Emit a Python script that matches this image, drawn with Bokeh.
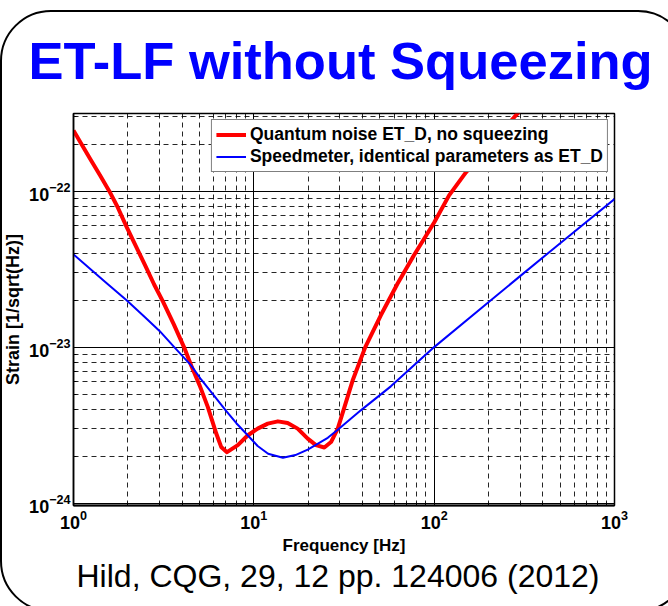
from urllib.parse import quote
from bokeh.plotting import figure
from bokeh.models import (Range1d, FixedTicker, LogTickFormatter, Legend, LegendItem, Title)
from bokeh.embed import file_html
from bokeh.resources import INLINE

# ---------------- data ----------------
freq_qn = [1.0, 1.1, 1.25, 1.4, 1.58, 1.75, 1.97, 2.2, 2.5, 2.8, 3.14, 3.6, 4.1, 4.5,
           5.0, 5.56, 6.19, 6.59, 7.1,
           8.15, 9.27, 10.5, 11.95, 13.6, 15.4, 17.5, 19.9, 22.1, 24.6, 26.8, 29.2,
           31.8, 35.3, 41.5, 50.6, 62.6, 77.4, 100, 121, 150, 200, 290, 300]
strain_qn = [2.45e-22, 2.03e-22, 1.58e-22, 1.27e-22, 1.0e-22, 7.98e-23, 5.9e-23, 4.53e-23,
             3.33e-23, 2.52e-23, 1.95e-23, 1.4e-23, 1.0e-23, 7.6e-24,
             5.7e-24, 4.12e-24, 2.79e-24, 2.29e-24, 2.12e-24,
             2.35e-24, 2.72e-24, 3.0e-24, 3.23e-24, 3.34e-24, 3.26e-24, 3.0e-24, 2.59e-24,
             2.35e-24, 2.27e-24, 2.46e-24, 3.0e-24,
             4.12e-24, 6.1e-24, 1.0e-23, 1.6e-23, 2.55e-23, 3.9e-23, 6.3e-23, 9.4e-23,
             1.32e-22, 1.95e-22, 3.15e-22, 3.3e-22]

freq_sm = [1.0, 1.5, 1.97, 2.5, 3.0, 3.62, 4.5, 5.1, 6.0, 7.0, 8.0, 9.3, 10.5, 12.0,
           14.5, 17.0, 19.9, 25.7, 29.2, 39.2, 57.5, 100, 200, 295, 500, 1000]
strain_sm = [3.93e-23, 2.62e-23, 2.0e-23, 1.55e-23, 1.27e-23, 1.0e-23, 7.6e-24, 6.2e-24,
             4.9e-24, 3.92e-24, 3.25e-24, 2.7e-24, 2.32e-24, 2.07e-24,
             1.95e-24, 2.03e-24, 2.2e-24, 2.62e-24, 2.95e-24, 3.93e-24, 5.6e-24, 1.0e-23,
             1.94e-23, 2.81e-23, 4.64e-23, 8.9e-23]

x_major_ticks = [1, 10, 100, 1000]
x_minor_ticks = [m * d for d in (1, 10, 100) for m in range(2, 10)]
y_major_ticks = [1e-24, 1e-23, 1e-22]
y_minor_ticks = [m * d for d in (1e-24, 1e-23) for m in range(2, 10)] + [2e-22, 3e-22]

x_limits = (1, 1000)
y_limits = (9.64e-25, 3.15e-22)

title_text = "ET-LF without Squeezing"
citation_text = "Hild, CQG, 29, 12 pp. 124006 (2012)"
legend_labels = ["Quantum noise ET_D, no squeezing",
                 "Speedmeter, identical parameters as ET_D"]
x_label = "Frequency [Hz]"
y_label = "Strain [1/sqrt(Hz)]"

FONT = "Liberation Sans"
W, H = 668, 606

# rounded slide frame drawn as a CSS background behind the (transparent) canvas border;
# the svg is larger than the figure so that its right and bottom sides fall outside
BG_W, BG_H = 760, 700
slide_svg = ('<svg xmlns="http://www.w3.org/2000/svg" width="%d" height="%d" '
             'viewBox="0 0 %d %d">'
             '<rect x="1" y="11" width="687" height="600" rx="50" ry="50" fill="none" '
             'stroke="black" stroke-width="2"/></svg>' % (BG_W, BG_H, BG_W, BG_H))

# ---------------- figure ----------------
p = figure(width=W, height=H, x_axis_type="log", y_axis_type="log",
           x_range=Range1d(*x_limits), y_range=Range1d(*y_limits),
           output_backend="svg", toolbar_location=None,
           min_border_left=72, min_border_right=54, min_border_top=113,
           min_border_bottom=101)
p.styles = {"background-image": 'url("data:image/svg+xml,%s")' % quote(slide_svg),
            "background-repeat": "no-repeat",
            "background-position": "0px 0px",
            "background-size": "%dpx %dpx" % (BG_W, BG_H),
            "overflow": "hidden",
            "vertical-align": "top",
            "margin-bottom": "-12px"}
p.background_fill_color = "white"
p.border_fill_color = "white"
p.border_fill_alpha = 0
p.outline_line_color = "black"
p.outline_line_width = 1.5

# title (panel must stay within the 113 px top border)
p.title.text = title_text
p.title.text_font = FONT
p.title.text_font_size = "52.5px"
p.title.text_font_style = "bold"
p.title.text_color = "#0000FF"
p.title.align = "left"
p.title.offset = -45
p.title.standoff = 48

# citation below
cit = Title(text=citation_text, text_font=FONT, text_font_size="32px",
            text_font_style="normal", text_color="black", align="left", offset=3,
            vertical_align="top", standoff=0)
p.add_layout(cit, "below")

# tickers / grid
xt = FixedTicker(ticks=x_major_ticks, minor_ticks=x_minor_ticks)
yt = FixedTicker(ticks=y_major_ticks, minor_ticks=y_minor_ticks)
p.xaxis.ticker = xt
p.yaxis.ticker = yt
p.xgrid.ticker = xt
p.ygrid.ticker = yt
p.xaxis.formatter = LogTickFormatter()
p.yaxis.formatter = LogTickFormatter()

for g in (p.xgrid, p.ygrid):
    g.grid_line_color = "black"
    g.grid_line_width = 1
    g.grid_line_alpha = 1
    g.minor_grid_line_color = "black"
    g.minor_grid_line_width = 1
    g.minor_grid_line_alpha = 0.85
    g.minor_grid_line_dash = "5 4"

for ax in (p.xaxis, p.yaxis):
    ax.axis_line_color = "black"
    ax.axis_line_width = 1.5
    ax.major_tick_in = 6
    ax.major_tick_out = 0
    ax.minor_tick_in = 3
    ax.minor_tick_out = 0
    ax.major_tick_line_color = "black"
    ax.minor_tick_line_color = "black"
    ax.major_label_text_font = FONT
    ax.major_label_text_font_style = "bold"
    ax.major_label_text_font_size = "18px"
    ax.major_label_text_color = "black"
    ax.axis_label_text_font = FONT
    ax.axis_label_text_font_style = "bold"
    ax.axis_label_text_color = "black"

p.xaxis.axis_label = x_label
p.yaxis.axis_label = y_label
p.xaxis.axis_label_text_font_size = "17px"
p.yaxis.axis_label_text_font_size = "18px"
p.xaxis.major_label_standoff = 4
p.yaxis.major_label_standoff = 3
p.xaxis.axis_label_standoff = 4
p.yaxis.axis_label_standoff = 3
p.xaxis.axis_line_width = 2

# curves
r1 = p.line(freq_qn, strain_qn, line_color="#FF0000", line_width=4, line_join="round")
r2 = p.line(freq_sm, strain_sm, line_color="#0000FF", line_width=2, line_join="round")

legend = Legend(items=[LegendItem(label=legend_labels[0], renderers=[r1]),
                       LegendItem(label=legend_labels[1], renderers=[r2])],
                location="top_right", margin=6, padding=4, spacing=1,
                glyph_width=30, glyph_height=19, label_height=19, label_standoff=4,
                label_text_font=FONT, label_text_font_size="17.5px",
                label_text_font_style="bold", label_text_color="black",
                border_line_color="black", border_line_width=1,
                background_fill_color="white", background_fill_alpha=1)
p.add_layout(legend)

open("out.html", "w").write(file_html(p, INLINE))
